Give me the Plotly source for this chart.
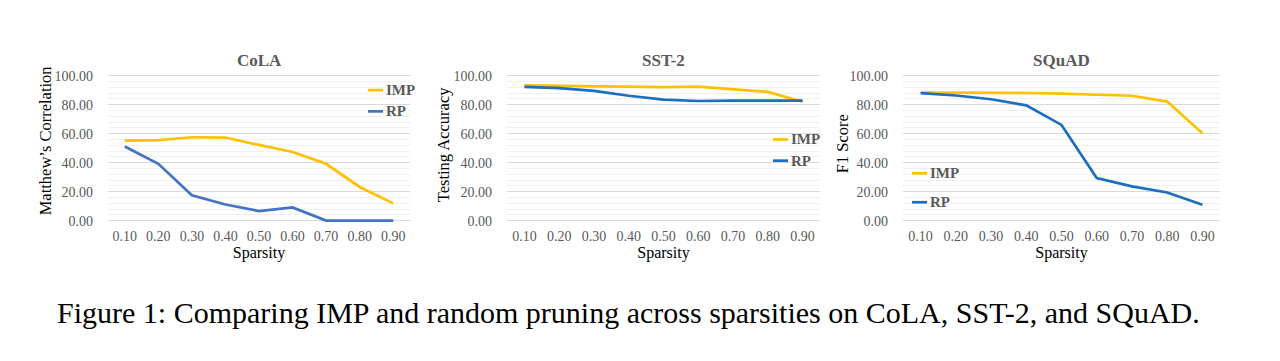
import plotly.graph_objects as go

W, H = 1280, 361

sparsity = ["0.10", "0.20", "0.30", "0.40", "0.50", "0.60", "0.70", "0.80", "0.90"]
y_ticks = [0, 20, 40, 60, 80, 100]
y_tick_labels = ["0.00", "20.00", "40.00", "60.00", "80.00", "100.00"]

cola_imp = [55.1, 55.5, 57.5, 57.3, 52.2, 47.3, 39.2, 23.2, 11.9]
cola_rp = [51.1, 39.2, 17.5, 11.1, 6.6, 9.1, 0.0, 0.0, 0.0]
sst2_imp = [93.2, 92.9, 92.7, 92.3, 92.0, 92.4, 90.8, 88.8, 82.0]
sst2_rp = [92.3, 91.4, 89.5, 86.1, 83.4, 82.5, 82.7, 82.5, 82.8]
squad_imp = [88.3, 88.3, 88.1, 88.0, 87.6, 87.0, 86.1, 82.1, 60.3]
squad_rp = [87.9, 86.3, 83.7, 79.5, 66.0, 29.4, 23.6, 19.4, 11.0]

titles = ["CoLA", "SST-2", "SQuAD"]
y_titles = ["Matthew\u2019s Correlation", "Testing Accuracy", "F1 Score"]
series_names = ["IMP", "RP"]
caption = "Figure 1: Comparing IMP and random pruning across sparsities on CoLA, SST-2, and SQuAD."

IMP_COLOR = "#FFC000"
RP_COLORS = ["#4472C4", "#1B6EC2", "#1B6EC2"]

# plot areas in pixels (left, right)
panels_px = [(108, 410), (507, 820), (903, 1220)]
y_top_px, y_bot_px = 72, 222  # pixel of 100 and 0
legend_pos = [(368, 87, 22), (773, 138, 22), (912, 173, 30)]
ytitle_x = [45, 443, 842]
ytitle_y = [140, 143, 143]

data = [(cola_imp, cola_rp), (sst2_imp, sst2_rp), (squad_imp, squad_rp)]

fig = go.Figure()
serif = "Liberation Serif, Times New Roman, serif"
grey = "#595959"

ymin, ymax = -1.5, 101
per_unit = (y_bot_px - y_top_px) / 100.0
dom_top_px = y_top_px - (ymax - 100) * per_unit
dom_bot_px = y_bot_px + (0 - ymin) * per_unit
ydom = [1 - dom_bot_px / H, 1 - dom_top_px / H]

annotations = []
shapes = []
for i, ((imp, rp), (l, r)) in enumerate(zip(data, panels_px)):
    xa = "x" if i == 0 else f"x{i+1}"
    ya = "y" if i == 0 else f"y{i+1}"
    fig.add_trace(go.Scatter(x=sparsity, y=imp, mode="lines", name=series_names[0],
                             line=dict(color=IMP_COLOR, width=2.7), xaxis=xa, yaxis=ya,
                             showlegend=False))
    fig.add_trace(go.Scatter(x=sparsity, y=rp, mode="lines", name=series_names[1],
                             line=dict(color=RP_COLORS[i], width=2.7), xaxis=xa, yaxis=ya,
                             showlegend=False))
    xkey = "xaxis" if i == 0 else f"xaxis{i+1}"
    ykey = "yaxis" if i == 0 else f"yaxis{i+1}"
    fig.layout[xkey] = dict(domain=[l / W, r / W], type="category", range=[-0.5, 8.5],
                            anchor=ya, showgrid=False, zeroline=False, showline=False,
                            tickfont=dict(family=serif, size=14, color=grey),
                            ticks="", ticklabelstandoff=3,
                            title=dict(text="Sparsity", font=dict(family=serif, size=16, color="black"),
                                       standoff=2))
    fig.layout[ykey] = dict(domain=ydom, range=[ymin, ymax], anchor=xa,
                            tickvals=y_ticks, ticktext=y_tick_labels,
                            showgrid=True, gridcolor="#D9D9D9", gridwidth=1,
                            zeroline=False, showline=False, ticks="",
                            tickfont=dict(family=serif, size=14, color=grey),
                            ticklabelstandoff=14,
                            minor=dict(dtick=4, tick0=0, showgrid=True, gridcolor="#F0F0F0", gridwidth=1))
    # title
    annotations.append(dict(text=f"<b>{titles[i]}</b>", x=(l + r) / 2 / W, y=1 - 56 / H,
                            xref="paper", yref="paper", showarrow=False,
                            font=dict(family=serif, size=17, color=grey),
                            xanchor="center", yanchor="middle"))
    # y title
    annotations.append(dict(text=y_titles[i], x=ytitle_x[i] / W, y=1 - ytitle_y[i] / H,
                            xref="paper", yref="paper", showarrow=False, textangle=-90,
                            font=dict(family=serif, size=16.5, color="black"),
                            xanchor="center", yanchor="middle"))
    # legend
    lx, ly, gap = legend_pos[i]
    for j, (nm, col) in enumerate(zip(series_names, [IMP_COLOR, RP_COLORS[i]])):
        yy = ly + j * gap
        shapes.append(dict(type="line", xref="paper", yref="paper",
                           x0=lx / W, x1=(lx + 15) / W, y0=1 - yy / H, y1=1 - yy / H,
                           line=dict(color=col, width=2.7)))
        annotations.append(dict(text=f"<b>{nm}</b>", x=(lx + 16) / W, y=1 - yy / H,
                                xref="paper", yref="paper", showarrow=False,
                                font=dict(family=serif, size=15, color=grey),
                                xanchor="left", yanchor="middle"))

annotations.append(dict(text=caption, x=628 / W, y=1 - 317 / H, xref="paper", yref="paper",
                        showarrow=False, font=dict(family=serif, size=30, color="black"),
                        xanchor="center", yanchor="middle"))

fig.update_layout(width=W, height=H, margin=dict(l=0, r=0, t=0, b=0),
                  paper_bgcolor="white", plot_bgcolor="white",
                  annotations=annotations, shapes=shapes, showlegend=False)

fig.write_html("out.html", config={"displayModeBar": False},
               post_script="document.body.style.margin='0';document.body.style.overflow='hidden';")
